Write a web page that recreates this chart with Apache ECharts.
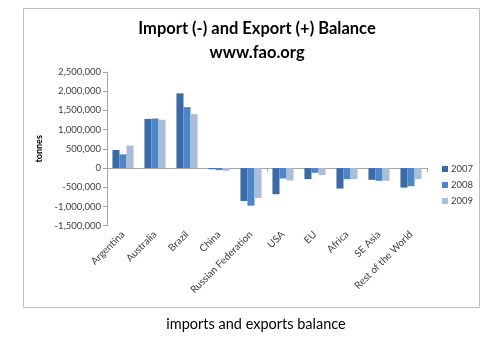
<!DOCTYPE html>
<html>
<head>
<meta charset="utf-8">
<script src="https://cdn.jsdelivr.net/npm/echarts@6/dist/echarts.min.js"></script>
<style>
html,body{margin:0;padding:0;background:#fff;}
#c{width:500px;height:350px;}
</style>
</head>
<body>
<div id="c"></div>
<script>
const categories = ['Argentina','Australia','Brazil','China','Russian Federation','USA','EU','Africa','SE Asia','Rest of the World'];
const y2007 = [470000, 1280000, 1945000, -30000, -856000, -680000, -288000, -534000, -306000, -508000];
const y2008 = [356000, 1290000, 1586000, -52000, -979000, -272000, -123000, -288000, -333000, -471000];
const y2009 = [584000, 1257000, 1403000, -70000, -778000, -325000, -183000, -288000, -330000, -288000];
const seriesNames = ['2007','2008','2009'];
const yTicks = {min:-1500000, max:2500000, interval:500000};

const FONT = 'Lato';
const chart = echarts.init(document.getElementById('c'));
const colors = ['#3B6BA5','#4A86C8','#A9BCDC'];
const fmt = v => v.toLocaleString('en-US');

chart.setOption({
  animation:false,
  color: colors,
  textStyle:{fontFamily:FONT},
  graphic:[{
    type:'rect', shape:{x:23.5,y:8.5,width:456,height:299},
    style:{fill:'none',stroke:'#BFBFBF',lineWidth:1}, silent:true, z:-1
  }],
  title:[{
    text:'Import (-) and Export (+) Balance\nwww.fao.org',
    left:252, top:12, textAlign:'center',
    textStyle:{fontFamily:FONT,fontSize:16.5,fontWeight:'bold',color:'#000',lineHeight:24}
  },{
    text:'imports and exports balance',
    left:251, top:312, textAlign:'center',
    textStyle:{fontFamily:FONT,fontSize:14.5,fontWeight:'normal',color:'#000'}
  }],
  legend:{
    data: seriesNames, orient:'vertical', left:437, top:159,
    itemWidth:6, itemHeight:6, itemGap:6, icon:'rect',
    textStyle:{fontFamily:FONT,fontSize:9.5,color:'#404040',padding:[0,0,0,-2]}
  },
  grid:{left:107, top:72, width:320, height:153.7, containLabel:false},
  xAxis:[{
    type:'category', data:categories,
    axisLine:{onZero:true,lineStyle:{color:'#A6A6A6'}},
    axisTick:{show:true,length:4,lineStyle:{color:'#A6A6A6'}},
    axisLabel:{show:false}
  },{
    type:'category', data:categories, position:'bottom',
    axisLine:{show:false}, axisTick:{show:false},
    axisLabel:{rotate:45, interval:0, margin:7, fontFamily:FONT, fontSize:10, color:'#404040'}
  }],
  yAxis:{
    type:'value', min:yTicks.min, max:yTicks.max, interval:yTicks.interval,
    name:'tonnes', nameLocation:'middle', nameGap:56, nameRotate:90,
    nameTextStyle:{fontFamily:FONT,fontSize:9,fontWeight:'bold',color:'#000'},
    axisLine:{show:true,lineStyle:{color:'#A6A6A6'}},
    axisTick:{show:true,length:4,lineStyle:{color:'#A6A6A6'}},
    splitLine:{show:false},
    axisLabel:{formatter:fmt, margin:6, fontFamily:FONT, fontSize:9.5, color:'#404040'}
  },
  series:[
    {name:seriesNames[0], type:'bar', data:y2007, barGap:'0%', barCategoryGap:'34%', xAxisIndex:0},
    {name:seriesNames[1], type:'bar', data:y2008, barGap:'0%', barCategoryGap:'34%', xAxisIndex:0},
    {name:seriesNames[2], type:'bar', data:y2009, barGap:'0%', barCategoryGap:'34%', xAxisIndex:0}
  ]
});
</script>
</body>
</html>
